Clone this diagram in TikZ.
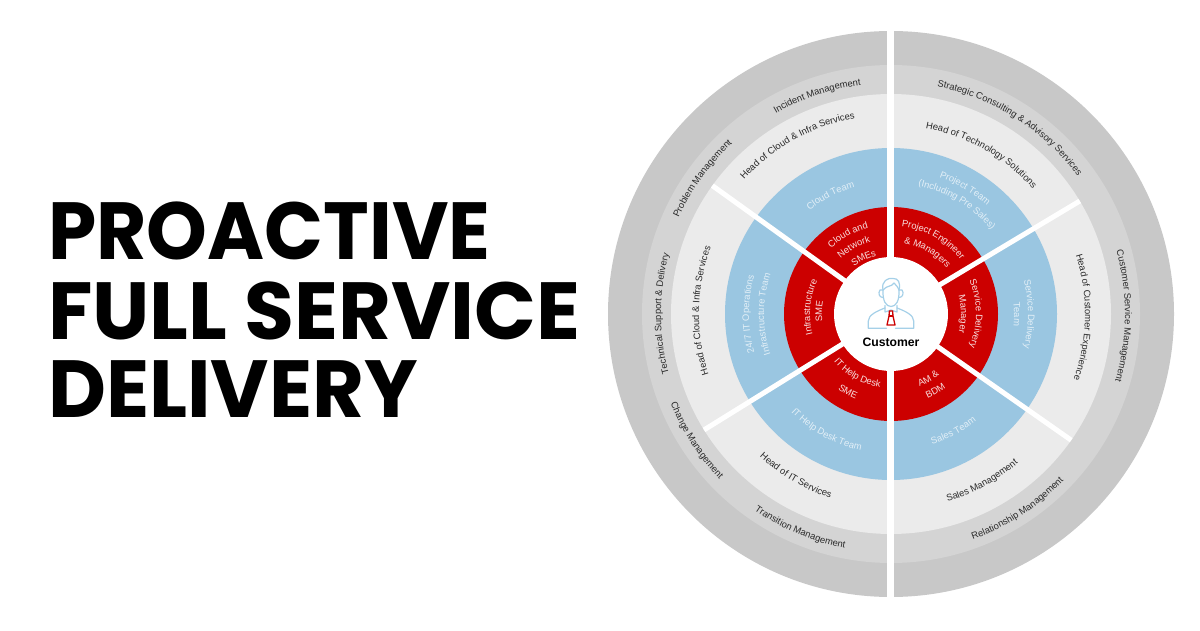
\documentclass[tikz,border=0pt]{standalone}
\usepackage{fontspec}
\setmainfont{Liberation Sans}
\newfontfamily\titlefont{Poppins}
\usetikzlibrary{decorations.text}
\definecolor{ringa}{HTML}{C8C8C8}
\definecolor{ringb}{HTML}{D4D4D4}
\definecolor{ringc}{HTML}{EBEBEB}
\definecolor{ringblue}{HTML}{9AC6E1}
\definecolor{ringred}{HTML}{CC0000}
\definecolor{bluetext}{HTML}{E2EFF7}
\definecolor{redtext}{HTML}{F8DEDE}
\definecolor{darktext}{HTML}{2A2A2A}
\definecolor{iconblue}{HTML}{A5D0E8}
\newcommand{\darkfont}{\fontsize{9.4}{10}\selectfont\color{darktext}}
\newcommand{\bluefont}{\fontsize{9.4}{10}\selectfont\color{bluetext}}
\newcommand{\redfont}{\fontsize{9.4}{10}\selectfont\color{redtext}}
\newcommand{\cwlabel}[4]{\path[decorate,decoration={text along path,text={|#1|#4},text align=center}]
	([shift={(#3+50:#2)}]c) arc[start angle=#3+50, delta angle=-100, radius=#2];}
\newcommand{\ccwlabel}[4]{\path[decorate,decoration={text along path,text={|#1|#4},text align=center}]
	([shift={(#3-50:#2)}]c) arc[start angle=#3-50, delta angle=100, radius=#2];}
\begin{document}
\begin{tikzpicture}[x=1pt, y=1pt,
		spoke/.style={draw=white, line width=5pt},
		gapline/.style={draw=white, line width=7.5pt},
		icon/.style={draw=iconblue, line width=1.2pt, line cap=round, line join=round},
		tie/.style={draw=ringred, line width=1.3pt, line join=round},
		titleline/.style={anchor=base west, inner sep=0pt, text=black, font=\titlefont\bfseries\fontsize{81}{81}\selectfont}]
	\useasboundingbox (0,0) rectangle (1200,630);
	\fill[white] (0,0) rectangle (1200,630);
	\coordinate (c) at (891,316);
	\fill[ringa] (c) circle[radius=283];
	\fill[ringb] (c) circle[radius=249];
	\fill[ringc] (c) circle[radius=220];
	\fill[ringblue] (c) circle[radius=166];
	\fill[ringred] (c) circle[radius=107];
	\foreach \ang in {144.3, 30.9, 211.8, -35} {
		\coordinate (s) at ([shift={(\ang:220)}]c);
		\draw[spoke] (c) -- (s);
	}
	\coordinate (gaptop) at (890.6,30);
	\coordinate (gapbot) at (890.6,600);
	\draw[gapline] (gaptop) -- (gapbot);
	\fill[white] (c) circle[radius=57];

	\cwlabel{\darkfont}{231}{108.7}{Incident Management}
	\cwlabel{\darkfont}{233}{144.3}{Problem Management}
	\cwlabel{\darkfont}{230}{180}{Technical Support {\&} Delivery}
	\ccwlabel{\darkfont}{238}{213}{Change Management}
	\ccwlabel{\darkfont}{239}{247}{Transition Management}
	\cwlabel{\darkfont}{232}{57.5}{Strategic Consulting {\&} Advisory Services}
	\cwlabel{\darkfont}{234}{-0.5}{Customer Service Management}
	\ccwlabel{\darkfont}{240}{-57}{Relationship Management}

	\cwlabel{\darkfont}{199}{119}{Head of Cloud {\&} Infra Services}
	\cwlabel{\darkfont}{192}{179}{Head of Cloud {\&} Infra Services}
	\cwlabel{\darkfont}{189}{60.4}{Head of Technology Solutions}
	\cwlabel{\darkfont}{194}{-1}{Head of Customer Experience}
	\ccwlabel{\darkfont}{194}{239.6}{Head of IT Services}
	\ccwlabel{\darkfont}{196}{-61.4}{Sales Management}

	\cwlabel{\bluefont}{132}{117}{Cloud Team}
	\cwlabel{\bluefont}{145}{59.5}{Project Team}
	\cwlabel{\bluefont}{131}{59}{(Including Pre Sales)}
	\cwlabel{\bluefont}{137}{0}{Service Delivery}
	\cwlabel{\bluefont}{123}{0}{Team}
	\ccwlabel{\bluefont}{137}{-62}{Sales Team}
	\ccwlabel{\bluefont}{140}{241}{IT Help Desk Team}
	\cwlabel{\bluefont}{142}{180}{24/7 IT Operations}
	\cwlabel{\bluefont}{127}{180}{Infrastructure Team}

	\cwlabel{\redfont}{88}{60.5}{Project Engineer}
	\cwlabel{\redfont}{72}{59.5}{{\&} Managers}
	\cwlabel{\redfont}{85}{0}{Service Delivery}
	\cwlabel{\redfont}{70}{0}{Manager}
	\ccwlabel{\redfont}{78}{-60}{AM {\&}}
	\ccwlabel{\redfont}{92}{-60}{BDM}
	\ccwlabel{\redfont}{74}{240.5}{IT Help Desk}
	\ccwlabel{\redfont}{92}{241}{SME}
	\cwlabel{\redfont}{81}{175}{Infrastructure}
	\cwlabel{\redfont}{69}{178}{SME}
	\cwlabel{\redfont}{89}{118.5}{Cloud and}
	\cwlabel{\redfont}{75}{119}{Network}
	\cwlabel{\redfont}{60}{116}{SMEs}

	\begin{scope}[shift={(c)}]
		\draw[icon] (-8,24) .. controls (-8.5,13) and (-5,7.5) .. (0,7.5) .. controls (5,7.5) and (8.5,13) .. (8,24);
		\draw[icon] (-8,24) .. controls (-10,33) and (-3,36.5) .. (2,35.5) .. controls (7,36) and (10,31) .. (8,24);
		\draw[icon] (-8,24) .. controls (-4,29) and (1,27) .. (3,31) .. controls (4.5,29) and (6.5,28) .. (8,24);
		\draw[icon] (-8.5,24) -- (-11,24) .. controls (-13,21) and (-12,17) .. (-8.5,16.5);
		\draw[icon] (8.5,24) -- (11,24) .. controls (13,21) and (12,17) .. (8.5,16.5);
		\draw[icon] (-4.5,-14.3) -- (-22.7,-14.3) -- (-22.7,-7) .. controls (-22.7,-1) and (-14,3) .. (-6,6) -- (-6,8.5);
		\draw[icon] (4.5,-14.3) -- (22.7,-14.3) -- (22.7,-7) .. controls (22.7,-1) and (14,3) .. (6,6) -- (6,8.5);
		\draw[icon] (-6,6) -- (-6,2) -- (0,4) -- (6,2) -- (6,6);
		\draw[tie] (-1.6,3) -- (1.6,3) -- (2,-2) -- (4,-11) -- (-4,-11) -- (-2,-2) -- cycle;
		\draw[tie] (-2,-2) -- (2,-2);
	\end{scope}
	\node[font=\bfseries, inner sep=0pt, text=black] (cust) at (891,287.5) {\fontsize{12.2}{13}\selectfont Customer};

	\node[titleline, xscale=.955] (proactive) at (48,370) {PROACTIVE};
	\node[titleline, xscale=1.003] (fullservice) at (48,290.5) {FULL SERVICE};
	\node[titleline, xscale=.985] (delivery) at (48,212) {DELIVERY};
\end{tikzpicture}
\end{document}
